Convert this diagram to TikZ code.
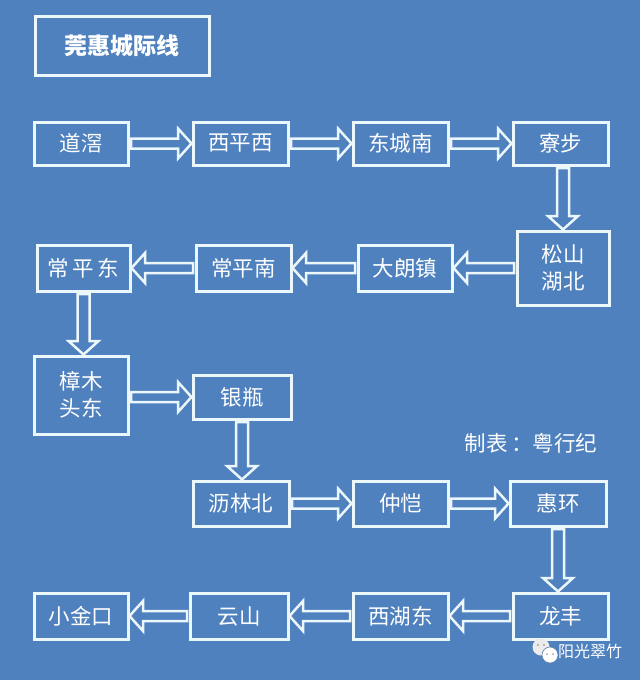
\documentclass[tikz,border=0pt]{standalone}
\usepackage{fontspec}
\setmainfont{Noto Sans CJK SC}
\usetikzlibrary{calc}
\definecolor{bg}{RGB}{79,129,191}
\definecolor{boxline}{RGB}{236,247,251}
\newcommand\rarr[2]{\draw[arr] let \p1=(#1), \p2=(#2) in
  (\x1+3pt,\y1+5pt) -- (\x2-15pt,\y1+5pt) -- (\x2-15pt,\y1+15pt) -- (\x2-1.5pt,\y1)
  -- (\x2-15pt,\y1-15pt) -- (\x2-15pt,\y1-5pt) -- (\x1+3pt,\y1-5pt) -- cycle;}
\newcommand\larr[2]{\draw[arr] let \p1=(#1), \p2=(#2) in
  (\x1-3pt,\y1+5pt) -- (\x2+15pt,\y1+5pt) -- (\x2+15pt,\y1+15pt) -- (\x2+1.5pt,\y1)
  -- (\x2+15pt,\y1-15pt) -- (\x2+15pt,\y1-5pt) -- (\x1-3pt,\y1-5pt) -- cycle;}
\newcommand\darr[2]{\draw[arr] let \p1=(#1), \p2=(#2) in
  (\x1-6pt,\y1-3pt) -- (\x1-6pt,\y2+15pt) -- (\x1-15pt,\y2+15pt) -- (\x1,\y2+1.5pt)
  -- (\x1+15pt,\y2+15pt) -- (\x1+6pt,\y2+15pt) -- (\x1+6pt,\y1-3pt) -- cycle;}
\begin{document}
\begin{tikzpicture}[x=1pt,y=-1pt,
  box/.style={draw=boxline, line width=3pt, fill=bg, text=white,
    font=\fontsize{21.5}{27}\selectfont, align=center, inner sep=0pt, outer sep=0pt},
  arr/.style={draw=boxline, line width=2.5pt, fill=bg, line join=miter},
  note/.style={text=white, font=\fontsize{21.5}{24}\selectfont, inner sep=0pt}]
\fill[bg] (0,0) rectangle (640,680);
\useasboundingbox (0,0) rectangle (640,680);
% title
\node[box, minimum width=174pt, minimum height=59pt, font=\fontsize{23}{27}\selectfont\bfseries] (title) at (122,45.5) {莞惠城际线};
% row 1
\node[box, minimum width=94pt, minimum height=43pt] (daojiao) at (81,143.5) {道滘};
\node[box, minimum width=95pt, minimum height=43pt] (xipingxi) at (240.5,143.5) {西平西};
\node[box, minimum width=95pt, minimum height=43pt] (dongchengnan) at (400.5,143.5) {东城南};
\node[box, minimum width=95pt, minimum height=43pt] (liaobu) at (560.5,143.5) {寮步};
% row 2
\node[box, minimum width=92pt, minimum height=74pt] (songshanhu) at (563,268) {松山\\湖北};
\node[box, minimum width=94pt, minimum height=46pt] (dalang) at (405,268) {大朗镇};
\node[box, minimum width=95pt, minimum height=46pt] (changpingnan) at (243.5,268) {常平南};
\node[box, minimum width=93pt, minimum height=46pt] (changpingdong) at (83.5,268) {常\,平\,东};
% row 3
\node[box, minimum width=94pt, minimum height=78pt] (zhangmutou) at (81,395) {樟木\\头东};
\node[box, minimum width=98pt, minimum height=44pt] (yinping) at (242,397) {银瓶};
\node[note] (credit) at (531,443) {制表\,：粤行纪};
% row 4
\node[box, minimum width=96pt, minimum height=45pt] (linbei) at (241,503.5) {沥林北};
\node[box, minimum width=95pt, minimum height=45pt] (zhongkai) at (400.5,503.5) {仲恺};
\node[box, minimum width=96pt, minimum height=45pt] (huihuan) at (558,503.5) {惠环};
% row 5
\node[box, minimum width=95pt, minimum height=46pt] (longfeng) at (560.5,616) {龙丰};
\node[box, minimum width=95pt, minimum height=46pt] (xihudong) at (400.5,616) {西湖东};
\node[box, minimum width=98pt, minimum height=46pt] (yunshan) at (239,616) {云山};
\node[box, minimum width=94pt, minimum height=46pt] (xiaojinkou) at (81,616) {小金口};
% arrows
\rarr{daojiao.east |- xipingxi}{xipingxi.west}
\rarr{xipingxi.east |- dongchengnan}{dongchengnan.west}
\rarr{dongchengnan.east |- liaobu}{liaobu.west}
\darr{songshanhu.north |- liaobu.south}{songshanhu.north}
\larr{songshanhu.west |- dalang}{dalang.east}
\larr{dalang.west |- changpingnan}{changpingnan.east}
\larr{changpingnan.west |- changpingdong}{changpingdong.east}
\darr{changpingdong.south}{changpingdong.south |- zhangmutou.north}
\rarr{zhangmutou.east |- yinping}{yinping.west}
\darr{yinping.south}{yinping.south |- linbei.north}
\rarr{linbei.east |- zhongkai}{zhongkai.west}
\rarr{zhongkai.east |- huihuan}{huihuan.west}
\darr{huihuan.south}{huihuan.south |- longfeng.north}
\larr{longfeng.west |- xihudong}{xihudong.east}
\larr{xihudong.west |- yunshan}{yunshan.east}
\larr{yunshan.west |- xiaojinkou}{xiaojinkou.east}
% watermark
\fill[white!85!gray] (541,647) circle (8.5pt);
\fill[white] (550,655) circle (8pt);
\draw[bg!60!gray, line width=0.6pt] (550,655) circle (8pt);
\fill[gray!70] (538,645) circle (1.2pt) (544,645) circle (1.2pt);
\fill[gray!70] (547,654) circle (1pt) (553,654) circle (1pt);
\node[text=white, font=\fontsize{16}{18}\selectfont, anchor=west, inner sep=0pt] (wm) at (558,651) {阳光翠竹};
\end{tikzpicture}
\end{document}
